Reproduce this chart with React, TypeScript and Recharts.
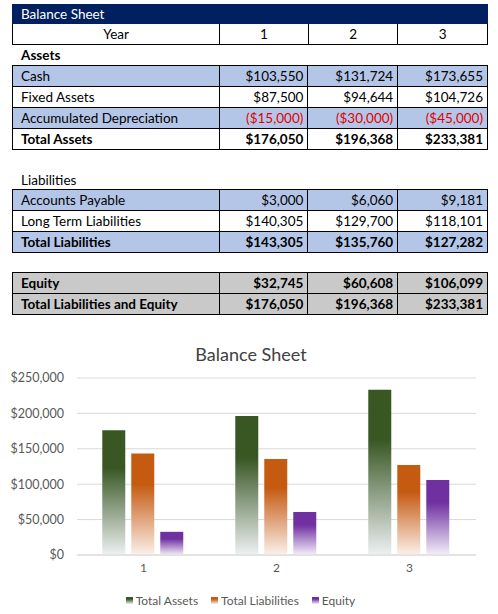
import React from 'react'
import {
  Bar,
  BarChart,
  CartesianGrid,
  Legend,
  XAxis,
  YAxis,
} from 'recharts'

// Balance sheet values
const YEARS = ['1', '2', '3']
const CASH = [103550, 131724, 173655]
const FIXED_ASSETS = [87500, 94644, 104726]
const ACCUM_DEPRECIATION = [-15000, -30000, -45000]
const TOTAL_ASSETS = [176050, 196368, 233381]
const ACCOUNTS_PAYABLE = [3000, 6060, 9181]
const LONG_TERM_LIABILITIES = [140305, 129700, 118101]
const TOTAL_LIABILITIES = [143305, 135760, 127282]
const EQUITY = [32745, 60608, 106099]
const TOTAL_LIAB_EQUITY = [176050, 196368, 233381]

const Y_TICKS = [0, 50000, 100000, 150000, 200000, 250000]

const SERIES = [
  { key: 'assets', name: 'Total Assets', color: '#385723', fade: '#eef1f3' },
  { key: 'liabilities', name: 'Total Liabilities', color: '#c55a11', fade: '#fbf1ea' },
  { key: 'equity', name: 'Equity', color: '#7030a0', fade: '#f4eff9' },
]

const chartData = YEARS.map((year, i) => ({
  year,
  assets: TOTAL_ASSETS[i],
  liabilities: TOTAL_LIABILITIES[i],
  equity: EQUITY[i],
}))

const FONT = 'Lato, "Liberation Sans", sans-serif'
const BLUE = '#b4c6e7'
const GREY = '#c9c9c9'
const COL_W = [207, 89, 90, 90]

function money(v: number) {
  const s = '$' + Math.abs(v).toLocaleString('en-US')
  return v < 0 ? `(${s})` : s
}

interface RowProps {
  label: string
  values?: number[]
  bg?: string
  bold?: boolean
  red?: boolean
  first?: boolean
}

function Row({ label, values, bg = '#fff', bold, red, first }: RowProps) {
  return (
    <div
      style={{
        display: 'flex',
        height: 20,
        borderTop: first ? 'none' : '1px solid #000',
        background: bg,
        fontWeight: bold ? 700 : 400,
      }}
    >
      <div style={{ width: COL_W[0] - 9, paddingLeft: 8, lineHeight: '20px' }}>
        {label}
      </div>
      {(values ?? []).map((v, i) => (
        <div
          key={i}
          style={{
            width: COL_W[i + 1] - 5,
            borderLeft: '1px solid #000',
            textAlign: 'right',
            paddingRight: 4,
            lineHeight: '20px',
            color: red ? '#e00000' : '#000',
          }}
        >
          {money(v)}
        </div>
      ))}
    </div>
  )
}

function Block({ top, children }: { top: number; children: React.ReactNode }) {
  return (
    <div
      style={{
        position: 'absolute',
        left: 12,
        top,
        width: 476,
        border: '1px solid #000',
        boxSizing: 'border-box',
      }}
    >
      {children}
    </div>
  )
}

function LegendContent() {
  return (
    <div
      style={{
        display: 'flex',
        justifyContent: 'center',
        alignItems: 'center',
        height: 20,
        fontSize: 12,
        color: '#595959',
        fontFamily: FONT,
        paddingLeft: 18,
      }}
    >
      {SERIES.map((s) => (
        <div key={s.key} style={{ display: 'flex', alignItems: 'center', marginRight: 13 }}>
          <span
            style={{
              display: 'inline-block',
              width: 7,
              height: 7,
              marginRight: 3,
              background: `linear-gradient(${s.color}, ${s.color} 30%, ${s.fade})`,
            }}
          />
          {s.name}
        </div>
      ))}
    </div>
  )
}

export default function App() {
  return (
    <div
      style={{
        position: 'absolute',
        left: 0,
        top: 0,
        width: 498,
        height: 614,
        background: '#fff',
        fontFamily: FONT,
        fontSize: 13.5,
        color: '#000',
      }}
    >
      {/* title bar */}
      <div
        style={{
          position: 'absolute',
          left: 12,
          top: 4,
          width: 476,
          height: 20,
          background: '#002060',
          color: '#fff',
          lineHeight: '20px',
          paddingLeft: 9,
          boxSizing: 'border-box',
        }}
      >
        Balance Sheet
      </div>
      <div
        style={{
          position: 'absolute',
          left: 12,
          top: 24,
          width: 476,
          height: 21,
          border: '1px solid #000',
          borderTop: 'none',
          boxSizing: 'border-box',
          display: 'flex',
        }}
      >
        <div style={{ width: COL_W[0], textAlign: 'center', lineHeight: '20px' }}>Year</div>
        {YEARS.map((y, i) => (
          <div
            key={y}
            style={{
              width: COL_W[i + 1] - 1,
              borderLeft: '1px solid #000',
              textAlign: 'center',
              lineHeight: '20px',
            }}
          >
            {y}
          </div>
        ))}
      </div>
      <div style={{ position: 'absolute', left: 21, top: 45, lineHeight: '20px', fontWeight: 700 }}>
        Assets
      </div>
      <Block top={65}>
        <Row first label='Cash' values={CASH} bg={BLUE} />
        <Row label='Fixed Assets' values={FIXED_ASSETS} />
        <Row label='Accumulated Depreciation' values={ACCUM_DEPRECIATION} bg={BLUE} red />
        <Row label='Total Assets' values={TOTAL_ASSETS} bold />
      </Block>

      <div style={{ position: 'absolute', left: 21, top: 170, lineHeight: '20px' }}>
        Liabilities
      </div>
      <Block top={189}>
        <Row first label='Accounts Payable' values={ACCOUNTS_PAYABLE} bg={BLUE} />
        <Row label='Long Term Liabilities' values={LONG_TERM_LIABILITIES} />
        <Row label='Total Liabilities' values={TOTAL_LIABILITIES} bg={BLUE} bold />
      </Block>

      <Block top={272}>
        <Row first label='Equity' values={EQUITY} bg={GREY} bold />
        <Row label='Total Liabilities and Equity' values={TOTAL_LIAB_EQUITY} bg={GREY} bold />
      </Block>

      {/* chart */}
      <div
        style={{
          position: 'absolute',
          left: 0,
          top: 343,
          width: 498,
          textAlign: 'center',
          fontSize: 18,
          color: '#404040',
          paddingLeft: 4,
          boxSizing: 'border-box',
        }}
      >
        Balance Sheet
      </div>
      <div style={{ position: 'absolute', left: 0, top: 330 }}>
        <BarChart
          width={498}
          height={284}
          data={chartData}
          margin={{ top: 48, right: 22, left: 0, bottom: 4 }}
          barCategoryGap='19%'
          barGap={6}
        >
          <defs>
            {SERIES.map((s) => (
              <linearGradient key={s.key} id={`grad-${s.key}`} x1='0' y1='0' x2='0' y2='1'>
                <stop offset='0%' stopColor={s.color} />
                <stop offset='30%' stopColor={s.color} />
                <stop offset='100%' stopColor={s.fade} />
              </linearGradient>
            ))}
          </defs>
          <CartesianGrid vertical={false} stroke='#d9d9d9' />
          <XAxis
            dataKey='year'
            height={35}
            tickLine={false}
            axisLine={{ stroke: '#d9d9d9' }}
            tick={{ fill: '#595959', fontSize: 12, fontFamily: FONT }}
          />
          <YAxis
            width={77}
            domain={[0, 250000]}
            ticks={Y_TICKS}
            tickLine={false}
            axisLine={false}
            tickMargin={7}
            tick={{ fill: '#595959', fontSize: 12.5, fontFamily: FONT }}
            tickFormatter={(v: number) => money(v)}
          />
          <Legend verticalAlign='bottom' height={20} content={() => <LegendContent />} />
          {SERIES.map((s) => (
            <Bar
              key={s.key}
              dataKey={s.key}
              name={s.name}
              fill={`url(#grad-${s.key})`}
              isAnimationActive={false}
            />
          ))}
        </BarChart>
      </div>
    </div>
  )
}
